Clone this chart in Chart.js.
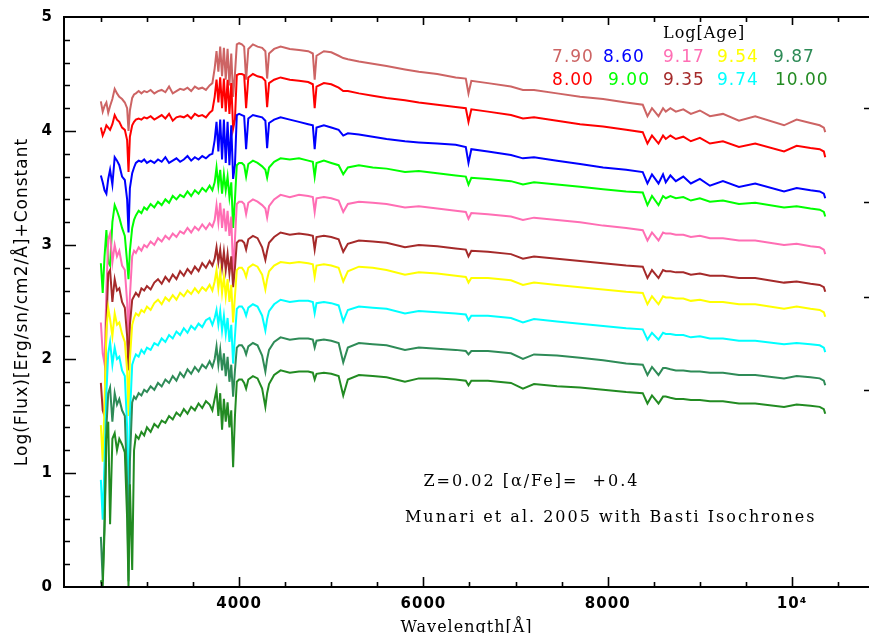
<!DOCTYPE html>
<html>
<head>
<meta charset="utf-8">
<script src="https://cdn.jsdelivr.net/npm/chart.js@4.4.1/dist/chart.umd.min.js"></script>
<style>
  html, body { margin: 0; padding: 0; background: #fff; }
  #wrap { width: 869px; height: 633px; position: relative; }
</style>
</head>
<body>
<div id="wrap"><canvas id="chartSpectra"></canvas></div>
<script>
// ============================================================================
//  DATA
// ============================================================================
const wave = [2500,2520,2540,2560,2580,2600,2625,2650,2675,2700,
  2730,2760,2785,2800,2815,2840,2860,2880,2910,2940,
  2970,3000,3040,3080,3120,3160,3200,3240,3280,3320,
  3360,3400,3440,3480,3520,3560,3600,3640,3680,3710,
  3735,3755,3775,3795,3815,3835,3855,3875,3895,3915,
  3935,3955,3975,4000,
  4030,4055,4076,4100,4150,4200,4250,4285,4304,4325,
  4380,4450,4550,4650,4750,4800,4820,4840,4920,5000,
  5080,5130,5180,5300,5450,5600,5800,5950,6150,6350,
  6460,6489,6520,6700,6950,7080,7200,7450,7700,7950,
  8200,8380,8431,8480,8551,8600,8630,8680,8739,8820,
  8902,9000,9109,9250,9424,9600,9913,10050,10200,10300,
  10345,10360];

const ageLabels = ["7.90","8.00","8.60","9.00","9.17","9.35","9.54","9.74","9.87","10.00"];
const ageColors = ["#cd6464","#ff0000","#0000ff","#00ff00","#ff6eb4",
                   "#a52a2a","#ffff00","#00ffff","#2e8b57","#228b22"];

const age790 = [4.26,4.17,4.22,4.25,4.16,4.22,4.28,4.37,4.33,4.30,
  4.28,4.25,4.20,4.00,4.18,4.29,4.32,4.33,4.35,4.33,
  4.35,4.34,4.36,4.33,4.35,4.36,4.34,4.39,4.33,4.35,
  4.37,4.36,4.38,4.35,4.39,4.37,4.38,4.36,4.40,4.42,
  4.55,4.70,4.52,4.74,4.48,4.73,4.45,4.72,4.40,4.68,
  4.30,4.50,4.76,4.77,
  4.76,4.74,4.45,4.72,4.76,4.74,4.73,4.70,4.46,4.68,
  4.72,4.74,4.72,4.71,4.70,4.68,4.45,4.66,4.70,4.69,
  4.66,4.64,4.63,4.61,4.59,4.57,4.54,4.52,4.50,4.47,
  4.46,4.33,4.44,4.42,4.39,4.36,4.36,4.33,4.30,4.28,
  4.25,4.23,4.13,4.20,4.13,4.20,4.17,4.20,4.17,4.19,
  4.15,4.18,4.13,4.15,4.09,4.13,4.05,4.10,4.07,4.05,
  4.03,3.99];

const age800 = [4.03,3.96,4.00,4.05,4.03,4.01,4.06,4.14,4.10,4.08,
  4.03,4.01,3.92,3.64,3.95,4.05,4.08,4.10,4.11,4.10,
  4.12,4.11,4.13,4.10,4.12,4.14,4.11,4.15,4.09,4.12,
  4.13,4.12,4.14,4.11,4.15,4.13,4.14,4.12,4.16,4.18,
  4.30,4.45,4.25,4.47,4.20,4.46,4.17,4.45,4.15,4.42,
  4.02,4.10,4.49,4.50,
  4.50,4.49,4.20,4.47,4.50,4.48,4.47,4.44,4.21,4.42,
  4.45,4.47,4.45,4.44,4.43,4.41,4.20,4.39,4.42,4.41,
  4.38,4.35,4.35,4.33,4.31,4.29,4.27,4.25,4.23,4.21,
  4.20,4.08,4.19,4.17,4.14,4.11,4.12,4.09,4.06,4.04,
  4.01,3.99,3.89,3.96,3.89,3.96,3.93,3.96,3.93,3.95,
  3.91,3.94,3.89,3.91,3.86,3.89,3.82,3.87,3.85,3.84,
  3.82,3.77];

const age860 = [3.61,3.55,3.48,3.45,3.58,3.66,3.53,3.77,3.74,3.70,
  3.60,3.57,3.40,3.11,3.50,3.63,3.68,3.72,3.74,3.73,
  3.75,3.72,3.74,3.72,3.75,3.73,3.77,3.72,3.74,3.76,
  3.73,3.75,3.78,3.74,3.77,3.75,3.78,3.76,3.79,3.80,
  3.92,4.08,3.82,4.10,3.75,4.10,3.72,4.08,3.70,4.05,
  3.58,3.70,4.14,4.15,
  4.14,4.13,3.84,4.11,4.14,4.13,4.12,4.09,3.85,4.07,
  4.10,4.12,4.10,4.08,4.06,4.05,3.84,4.03,4.05,4.03,
  4.01,3.96,3.98,3.97,3.95,3.93,3.91,3.90,3.89,3.88,
  3.86,3.72,3.84,3.82,3.79,3.76,3.77,3.74,3.71,3.68,
  3.66,3.64,3.54,3.62,3.54,3.62,3.55,3.61,3.56,3.60,
  3.54,3.58,3.52,3.56,3.51,3.54,3.47,3.50,3.48,3.47,
  3.45,3.41];

const age900 = [2.84,2.58,2.90,3.13,2.85,2.82,3.20,3.35,3.30,3.24,
  3.15,3.08,2.85,2.70,2.95,3.15,3.22,3.26,3.30,3.28,
  3.33,3.31,3.36,3.33,3.38,3.35,3.40,3.37,3.43,3.40,
  3.44,3.42,3.47,3.43,3.48,3.45,3.50,3.47,3.52,3.48,
  3.55,3.68,3.52,3.66,3.45,3.62,3.48,3.60,3.42,3.55,
  3.15,3.40,3.70,3.72,
  3.72,3.70,3.60,3.71,3.74,3.72,3.69,3.66,3.59,3.68,
  3.73,3.76,3.75,3.76,3.74,3.73,3.60,3.72,3.74,3.72,
  3.70,3.62,3.68,3.70,3.68,3.67,3.64,3.65,3.63,3.61,
  3.60,3.53,3.59,3.58,3.56,3.53,3.55,3.53,3.51,3.49,
  3.47,3.46,3.35,3.43,3.35,3.43,3.41,3.43,3.41,3.42,
  3.39,3.41,3.38,3.39,3.36,3.37,3.33,3.34,3.32,3.31,
  3.29,3.25];

const age917 = [2.32,2.05,1.96,2.60,3.05,3.10,2.85,3.00,2.90,2.95,
  2.82,2.78,2.50,2.15,2.55,2.90,2.95,2.93,2.98,2.95,
  3.00,2.98,3.03,3.00,3.06,3.03,3.08,3.05,3.10,3.07,
  3.12,3.10,3.15,3.11,3.16,3.13,3.18,3.14,3.19,3.16,
  3.22,3.35,3.20,3.37,3.15,3.32,3.12,3.30,3.08,3.25,
  2.75,3.05,3.36,3.38,
  3.38,3.36,3.27,3.37,3.40,3.38,3.35,3.32,3.24,3.34,
  3.40,3.44,3.42,3.44,3.43,3.42,3.29,3.41,3.42,3.41,
  3.39,3.29,3.36,3.38,3.37,3.36,3.33,3.34,3.32,3.30,
  3.29,3.23,3.28,3.27,3.25,3.22,3.24,3.22,3.20,3.17,
  3.15,3.13,3.04,3.11,3.04,3.11,3.10,3.10,3.09,3.09,
  3.07,3.08,3.06,3.06,3.04,3.04,3.00,3.01,2.99,2.98,
  2.96,2.92];

const age935 = [1.79,1.55,1.50,2.30,2.75,2.78,2.50,2.70,2.60,2.62,
  2.50,2.45,2.20,1.90,2.30,2.52,2.55,2.58,2.55,2.62,
  2.60,2.64,2.61,2.67,2.70,2.66,2.72,2.68,2.74,2.70,
  2.77,2.73,2.79,2.75,2.81,2.77,2.84,2.80,2.86,2.82,
  2.88,2.98,2.85,2.96,2.80,2.94,2.78,2.92,2.75,2.90,
  2.63,2.80,3.02,3.04,
  3.04,3.02,2.96,3.05,3.08,3.06,2.98,2.87,2.95,3.02,
  3.07,3.11,3.09,3.10,3.09,3.08,2.96,3.07,3.08,3.07,
  3.05,2.94,3.01,3.04,3.03,3.02,2.98,3.00,2.99,2.97,
  2.96,2.90,2.95,2.94,2.92,2.88,2.90,2.88,2.86,2.84,
  2.82,2.81,2.71,2.78,2.71,2.78,2.77,2.77,2.76,2.76,
  2.74,2.75,2.73,2.73,2.71,2.71,2.67,2.68,2.66,2.65,
  2.63,2.59];

const age954 = [1.42,1.10,1.60,2.25,2.45,2.35,2.20,2.40,2.30,2.32,
  2.22,2.15,1.90,1.50,2.00,2.30,2.36,2.40,2.38,2.43,
  2.41,2.46,2.43,2.49,2.52,2.48,2.54,2.51,2.56,2.52,
  2.58,2.55,2.60,2.57,2.62,2.58,2.63,2.60,2.65,2.60,
  2.68,2.78,2.62,2.76,2.58,2.72,2.55,2.70,2.50,2.65,
  2.32,2.55,2.78,2.80,
  2.80,2.77,2.72,2.80,2.83,2.81,2.74,2.61,2.70,2.77,
  2.82,2.85,2.84,2.85,2.84,2.83,2.72,2.82,2.83,2.82,
  2.80,2.68,2.77,2.81,2.80,2.78,2.74,2.76,2.75,2.73,
  2.72,2.67,2.71,2.71,2.69,2.65,2.67,2.65,2.63,2.61,
  2.59,2.58,2.48,2.55,2.48,2.55,2.54,2.54,2.53,2.53,
  2.51,2.52,2.50,2.50,2.48,2.48,2.44,2.46,2.44,2.43,
  2.41,2.37];

const age974 = [0.94,0.59,1.10,1.70,2.05,2.15,1.95,2.10,2.00,2.02,
  1.90,1.85,1.40,0.35,1.50,1.95,2.00,2.04,2.02,2.08,
  2.05,2.10,2.08,2.14,2.12,2.18,2.15,2.21,2.18,2.24,
  2.21,2.27,2.23,2.29,2.26,2.31,2.28,2.34,2.36,2.30,
  2.36,2.43,2.30,2.42,2.25,2.38,2.22,2.36,2.15,2.30,
  1.96,2.20,2.44,2.46,
  2.46,2.43,2.38,2.45,2.48,2.46,2.38,2.25,2.35,2.42,
  2.48,2.52,2.50,2.51,2.51,2.50,2.40,2.49,2.50,2.49,
  2.47,2.33,2.43,2.46,2.45,2.44,2.40,2.42,2.41,2.40,
  2.39,2.34,2.38,2.38,2.36,2.32,2.35,2.33,2.31,2.29,
  2.27,2.26,2.17,2.23,2.17,2.23,2.22,2.22,2.21,2.21,
  2.19,2.20,2.18,2.18,2.16,2.16,2.13,2.14,2.13,2.12,
  2.10,2.06];

const age987 = [0.44,0.05,0.60,1.40,1.70,1.75,1.45,1.70,1.60,1.65,
  1.55,1.50,0.90,0.05,1.10,1.62,1.67,1.65,1.70,1.68,
  1.73,1.71,1.76,1.73,1.79,1.76,1.82,1.79,1.85,1.81,
  1.88,1.84,1.91,1.87,1.93,1.89,1.95,1.92,1.98,1.93,
  2.00,2.11,1.95,2.08,1.90,2.05,1.85,2.02,1.80,1.95,
  1.67,1.90,2.10,2.12,
  2.12,2.09,2.04,2.11,2.14,2.12,2.03,1.89,2.00,2.08,
  2.15,2.19,2.17,2.18,2.18,2.17,2.10,2.16,2.17,2.16,
  2.14,1.97,2.10,2.14,2.13,2.12,2.08,2.10,2.09,2.08,
  2.07,2.04,2.07,2.07,2.05,2.00,2.04,2.03,2.01,1.99,
  1.96,1.95,1.86,1.93,1.86,1.92,1.92,1.91,1.90,1.90,
  1.89,1.89,1.88,1.88,1.86,1.86,1.83,1.85,1.84,1.83,
  1.81,1.77];

const age1000 = [0.06,0.00,0.50,1.30,1.45,0.55,1.30,1.35,1.20,1.30,
  1.25,1.18,0.60,0.00,0.90,0.15,1.20,1.33,1.30,1.36,
  1.33,1.40,1.36,1.43,1.40,1.46,1.44,1.50,1.47,1.53,
  1.50,1.56,1.52,1.58,1.55,1.61,1.57,1.63,1.60,1.55,
  1.65,1.73,1.50,1.70,1.38,1.65,1.45,1.62,1.40,1.55,
  1.05,1.50,1.80,1.82,
  1.82,1.79,1.74,1.82,1.85,1.83,1.74,1.58,1.70,1.78,
  1.86,1.90,1.88,1.89,1.89,1.88,1.82,1.87,1.88,1.87,
  1.85,1.68,1.82,1.86,1.85,1.84,1.80,1.83,1.83,1.82,
  1.81,1.77,1.81,1.81,1.79,1.74,1.78,1.76,1.75,1.73,
  1.71,1.70,1.61,1.68,1.61,1.67,1.67,1.66,1.65,1.65,
  1.64,1.64,1.63,1.63,1.61,1.61,1.58,1.60,1.59,1.58,
  1.56,1.52];

const series = [age790, age800, age860, age900, age917, age935, age954, age974, age987, age1000];

const xTicks = [4000, 6000, 8000, 10000];
const yTicks = [0, 1, 2, 3, 4, 5];
const rightTicks = [4.20, 3.38, 2.54, 1.73];

// ============================================================================
//  LEGEND + ANNOTATION LAYOUT (data coordinates)
// ============================================================================
const legendTitle = { text: "Log[Age]", x: 8600, y: 4.85 };
const legendSpots = [
  { x: 7396, y: 4.645 }, { x: 7396, y: 4.44 },
  { x: 7949, y: 4.645 }, { x: 8004, y: 4.44 },
  { x: 8600, y: 4.645 }, { x: 8600, y: 4.44 },
  { x: 9186, y: 4.645 }, { x: 9186, y: 4.44 },
  { x: 9794, y: 4.645 }, { x: 9815, y: 4.44 }
];
const notes = [
  { text: "Z=0.02 [\u03b1/Fe]=  +0.4", x: 6000, y: 0.92 },
  { text: "Munari et al. 2005 with Basti Isochrones", x: 5800, y: 0.605 }
];

// ============================================================================
//  FRAME, TICK MARKS AND TEXT
// ============================================================================
const framePlugin = {
    id: "frame",
    beforeDraw(chart) {
        chart.ctx.letterSpacing = "1px";
    },
    afterDatasetsDraw(chart) {
        const { ctx, chartArea: a, scales: { x, y } } = chart;
        ctx.save();
        ctx.strokeStyle = "#000";
        ctx.lineWidth = 2;
        ctx.beginPath();
        ctx.moveTo(a.right + 5, a.top);
        ctx.lineTo(a.left, a.top);
        ctx.lineTo(a.left, a.bottom);
        ctx.lineTo(a.right + 5, a.bottom);
        ctx.stroke();

        ctx.lineWidth = 1.6;
        ctx.beginPath();
        for (let v = 2500; v <= x.max; v += 500) {
            const px = Math.round(x.getPixelForValue(v)) + 0.5;
            const major = v % 2000 === 0;
            ctx.moveTo(px, a.bottom); ctx.lineTo(px, a.bottom - (major ? 10 : 5));
            ctx.moveTo(px, a.top); ctx.lineTo(px, a.top + (major ? 8 : 5));
        }
        for (let k = 1; k < 25; k++) {
            const v = k * 0.2;
            const py = Math.round(y.getPixelForValue(v)) + 0.5;
            const major = k % 5 === 0;
            ctx.moveTo(a.left, py); ctx.lineTo(a.left + (major ? 12 : 6), py);
        }
        for (const v of rightTicks) {
            const py = Math.round(y.getPixelForValue(v)) + 0.5;
            ctx.moveTo(a.right, py); ctx.lineTo(a.right - 5, py);
        }
        ctx.stroke();
        ctx.restore();
    },
    afterDraw(chart) {
        const { ctx, scales: { x, y } } = chart;
        ctx.save();
        ctx.textAlign = "left";
        ctx.textBaseline = "middle";

        ctx.fillStyle = "#000";
        ctx.letterSpacing = "1px";
        ctx.font = "16px 'DejaVu Serif'";
        ctx.fillText(legendTitle.text, x.getPixelForValue(legendTitle.x), y.getPixelForValue(legendTitle.y));

        ctx.font = "17px 'DejaVu Sans'";
        ageLabels.forEach((lab, i) => {
            ctx.fillStyle = ageColors[i];
            ctx.fillText(lab, x.getPixelForValue(legendSpots[i].x), y.getPixelForValue(legendSpots[i].y));
        });

        ctx.fillStyle = "#000";
        ctx.letterSpacing = "2px";
        ctx.font = "16px 'DejaVu Serif'";
        for (const n of notes) {
            ctx.fillText(n.text, x.getPixelForValue(n.x), y.getPixelForValue(n.y));
        }
        ctx.restore();
    }
};

// ============================================================================
//  CHART
// ============================================================================
new Chart(document.getElementById("chartSpectra"), {
    type: "line",
    data: {
        datasets: series.map((vals, i) => ({
            label: ageLabels[i],
            data: wave.map((w, k) => ({ x: w, y: vals[k] })),
            borderColor: ageColors[i],
            borderWidth: 2,
            pointRadius: 0,
            fill: false,
            tension: 0,
            order: series.length - i
        }))
    },
    options: {
        responsive: true,
        maintainAspectRatio: false,
        animation: false,
        layout: { padding: { top: 17, right: 0, left: 0, bottom: 0 } },
        plugins: { legend: { display: false }, tooltip: { enabled: false } },
        scales: {
            x: {
                type: "linear",
                min: 2100,
                max: 10835,
                afterBuildTicks: s => { s.ticks = xTicks.map(v => ({ value: v })); },
                afterFit: s => { s.height = 46; },
                grid: { display: false },
                border: { display: false },
                ticks: {
                    autoSkip: false,
                    maxRotation: 0,
                    padding: 0,
                    color: "#000",
                    font: { family: "DejaVu Sans", size: 15, weight: "bold" },
                    callback: v => v === 10000 ? "10\u2074" : String(v)
                },
                title: {
                    display: true,
                    text: "Wavelength[\u00c5]",
                    color: "#000",
                    font: { family: "DejaVu Serif", size: 16 },
                    padding: { top: 0, bottom: -4 }
                }
            },
            y: {
                type: "linear",
                min: 0,
                max: 5,
                afterBuildTicks: s => { s.ticks = yTicks.map(v => ({ value: v })); },
                afterFit: s => { s.width = 64; },
                grid: { display: false },
                border: { display: false },
                ticks: {
                    autoSkip: false,
                    padding: 3,
                    color: "#000",
                    font: { family: "DejaVu Sans", size: 15, weight: "bold" }
                },
                title: {
                    display: true,
                    text: "Log(Flux)[Erg/sn/cm2/\u00c5]+Constant",
                    color: "#000",
                    font: { family: "DejaVu Sans", size: 17 },
                    padding: { top: 12, bottom: 0 }
                }
            }
        }
    },
    plugins: [framePlugin]
});
</script>
</body>
</html>
